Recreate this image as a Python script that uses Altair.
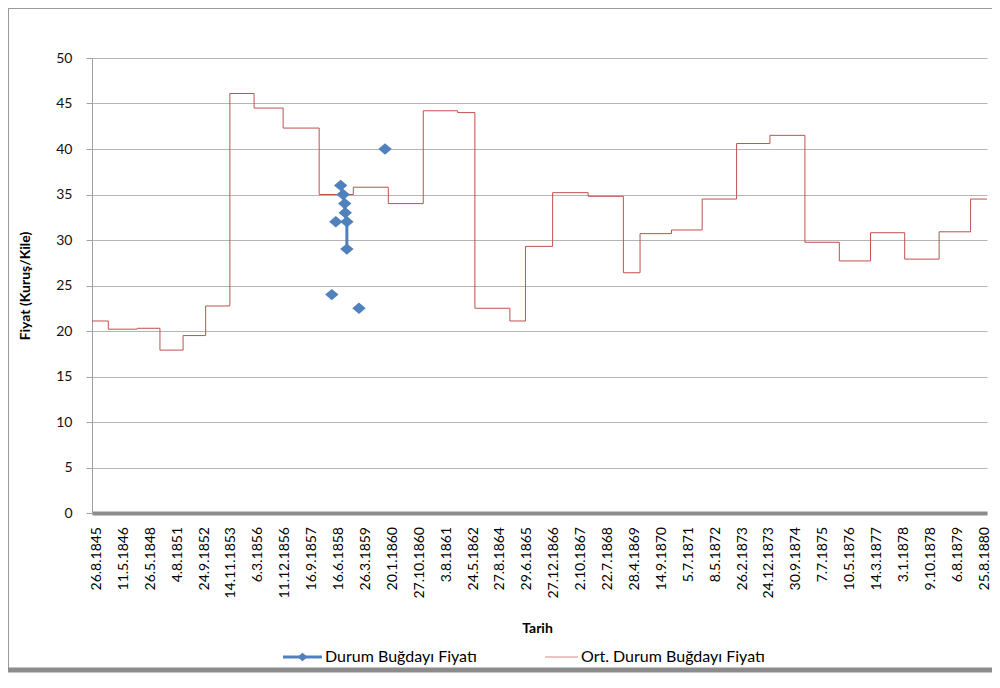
import altair as alt
import pandas as pd

# Category labels on the x axis (every labelled category, index 0..33)
date_labels = [
    "26.8.1845", "11.5.1846", "26.5.1848", "4.8.1851", "24.9.1852",
    "14.11.1853", "6.3.1856", "11.12.1856", "16.9.1857", "16.6.1858",
    "26.3.1859", "20.1.1860", "27.10.1860", "3.8.1861", "24.5.1862",
    "27.8.1864", "29.6.1865", "27.12.1866", "2.10.1867", "22.7.1868",
    "28.4.1869", "14.9.1870", "5.7.1871", "8.5.1872", "26.2.1873",
    "24.12.1873", "30.9.1874", "7.7.1875", "10.5.1876", "14.3.1877",
    "3.1.1878", "9.10.1878", "6.8.1879", "25.8.1880",
]
tick_pos = list(range(len(date_labels)))

# Average durum wheat price (step series): position in label units, value
avg_x = [-0.186, 0.42, 1.50, 2.34, 3.20, 4.04, 4.94, 5.84, 6.92, 8.26,
         9.53, 10.83, 12.13, 13.41, 14.05, 15.35, 15.93, 16.94, 18.26, 19.57,
         20.19, 21.36, 22.50, 23.78, 25.02, 26.32, 27.60, 28.76, 30.03, 31.31,
         32.48, 33.09]
avg_y = [21.1, 20.2, 20.3, 17.9, 19.5, 22.75, 46.1, 44.5, 42.3, 35.0,
         35.8, 34.0, 44.2, 44.0, 22.5, 21.1, 29.3, 35.2, 34.8, 26.4,
         30.7, 31.1, 34.5, 40.6, 41.5, 29.75, 27.7, 30.8, 27.9, 30.9,
         34.5, 34.5]

# Durum wheat price observations
durum_x = [8.73, 8.88, 9.06, 9.15, 9.21, 9.23, 9.29, 9.29, 9.74, 10.71]
durum_y = [24, 32, 36, 35, 34, 33, 32, 29, 22.5, 40]
durum_run = [1, 2, 3, 3, 3, 3, 3, 3, 4, 5]

series_names = ["Durum Buğdayı Fiyatı", "Ort. Durum Buğdayı Fiyatı"]

BLUE = "#4F81BD"
RED = "#C0504D"
FONT = "Lato"
DIAMOND = "M-1,0L0,-0.85L1,0L0,0.85Z"

avg_df = pd.DataFrame({"x": avg_x, "y": avg_y})
durum_df = pd.DataFrame({"x": durum_x, "y": durum_y, "run": durum_run,
                         "i": list(range(len(durum_x)))})
label_df = pd.DataFrame({"x": tick_pos, "label": date_labels})

x_scale = alt.Scale(domain=[-0.186, 33.09], nice=False, zero=False)
y_scale = alt.Scale(domain=[0, 50], nice=False)

x_axis = alt.Axis(
    values=tick_pos, labels=False, ticks=False, tickSize=0, grid=False,
    domainColor="#8c8c8c", domainWidth=4,
    title="Tarih", titleFont=FONT, titleFontSize=14, titleFontWeight="bold",
    titleColor="#000000", titleX=445, titleY=115, titleAlign="center",
    titleBaseline="middle",
)
y_axis = alt.Axis(
    values=list(range(0, 51, 5)), grid=True, gridColor="#b5b5b5",
    gridWidth=1, domainColor="#a0a0a0", tickColor="#a0a0a0", tickSize=6,
    labelFont=FONT, labelFontSize=14, labelColor="#111111", labelPadding=14,
    title="Fiyat (Kuruş/Kile)", titleFont=FONT, titleFontSize=14,
    titleFontWeight="bold", titleColor="#000000", titleAngle=270,
    titleX=-67, titleY=227.5, titleAlign="center", titleBaseline="middle",
)

avg_line = alt.Chart(avg_df).mark_line(
    interpolate="step-after", color=RED, strokeWidth=1
).encode(
    x=alt.X("x:Q", scale=x_scale, axis=x_axis),
    y=alt.Y("y:Q", scale=y_scale, axis=y_axis),
)

# x tick labels drawn through the x scale
x_labels = alt.Chart(label_df).mark_text(
    angle=270, align="right", baseline="middle", font=FONT, fontSize=14,
    color="#000000"
).encode(
    x=alt.X("x:Q", scale=x_scale),
    y=alt.value(469),
    text="label:N",
)

durum_line = alt.Chart(durum_df).mark_line(color=BLUE, strokeWidth=3).encode(
    x=alt.X("x:Q", scale=x_scale),
    y=alt.Y("y:Q", scale=y_scale),
    detail="run:N",
    order="i:Q",
)
durum_pts = alt.Chart(durum_df).mark_point(
    shape=DIAMOND, filled=True, size=180, color=BLUE, opacity=1
).encode(
    x=alt.X("x:Q", scale=x_scale),
    y=alt.Y("y:Q", scale=y_scale),
)

one = pd.DataFrame({"k": [0]})
# manual legend
leg_y = 599
leg_blue_line = alt.Chart(one).mark_rule(color=BLUE, strokeWidth=3).encode(
    x=alt.value(191), x2=alt.value(230), y=alt.value(leg_y))
leg_blue_pt = alt.Chart(one).mark_point(
    shape=DIAMOND, filled=True, size=100, color=BLUE, opacity=1
).encode(x=alt.value(210.5), y=alt.value(leg_y))
leg_blue_txt = alt.Chart(pd.DataFrame({"t": [series_names[0]]})).mark_text(
    align="left", baseline="middle", font=FONT, fontSize=16, color="#000000"
).encode(x=alt.value(233), y=alt.value(leg_y), text="t:N")
leg_red_line = alt.Chart(one).mark_rule(color="#D98A88", strokeWidth=1.2).encode(
    x=alt.value(453), x2=alt.value(486), y=alt.value(leg_y))
leg_red_txt = alt.Chart(pd.DataFrame({"t": [series_names[1]]})).mark_text(
    align="left", baseline="middle", font=FONT, fontSize=16, color="#000000"
).encode(x=alt.value(489), y=alt.value(leg_y), text="t:N")

# outer frame of the original figure
frame_left = alt.Chart(one).mark_rule(color="#9a9a9a", strokeWidth=1).encode(
    x=alt.value(-83.5), y=alt.value(-50), y2=alt.value(612))
frame_top = alt.Chart(one).mark_rule(color="#9a9a9a", strokeWidth=1).encode(
    x=alt.value(-84), x2=alt.value(900), y=alt.value(-49.5))
frame_bottom = alt.Chart(one).mark_rule(color="#8c8c8c", strokeWidth=5).encode(
    x=alt.value(-84), x2=alt.value(900), y=alt.value(612))

chart = alt.layer(
    avg_line, x_labels, durum_line, durum_pts,
    leg_blue_line, leg_blue_pt, leg_blue_txt, leg_red_line, leg_red_txt,
    frame_left, frame_top, frame_bottom,
).properties(
    width=895, height=455,
    autosize=alt.AutoSizeParams(type="none"),
    padding={"left": 84, "top": 50, "right": 5, "bottom": 161},
    background="white",
).configure_view(stroke=None)

chart.save("out.html", embed_options={"renderer": "svg", "actions": False})
